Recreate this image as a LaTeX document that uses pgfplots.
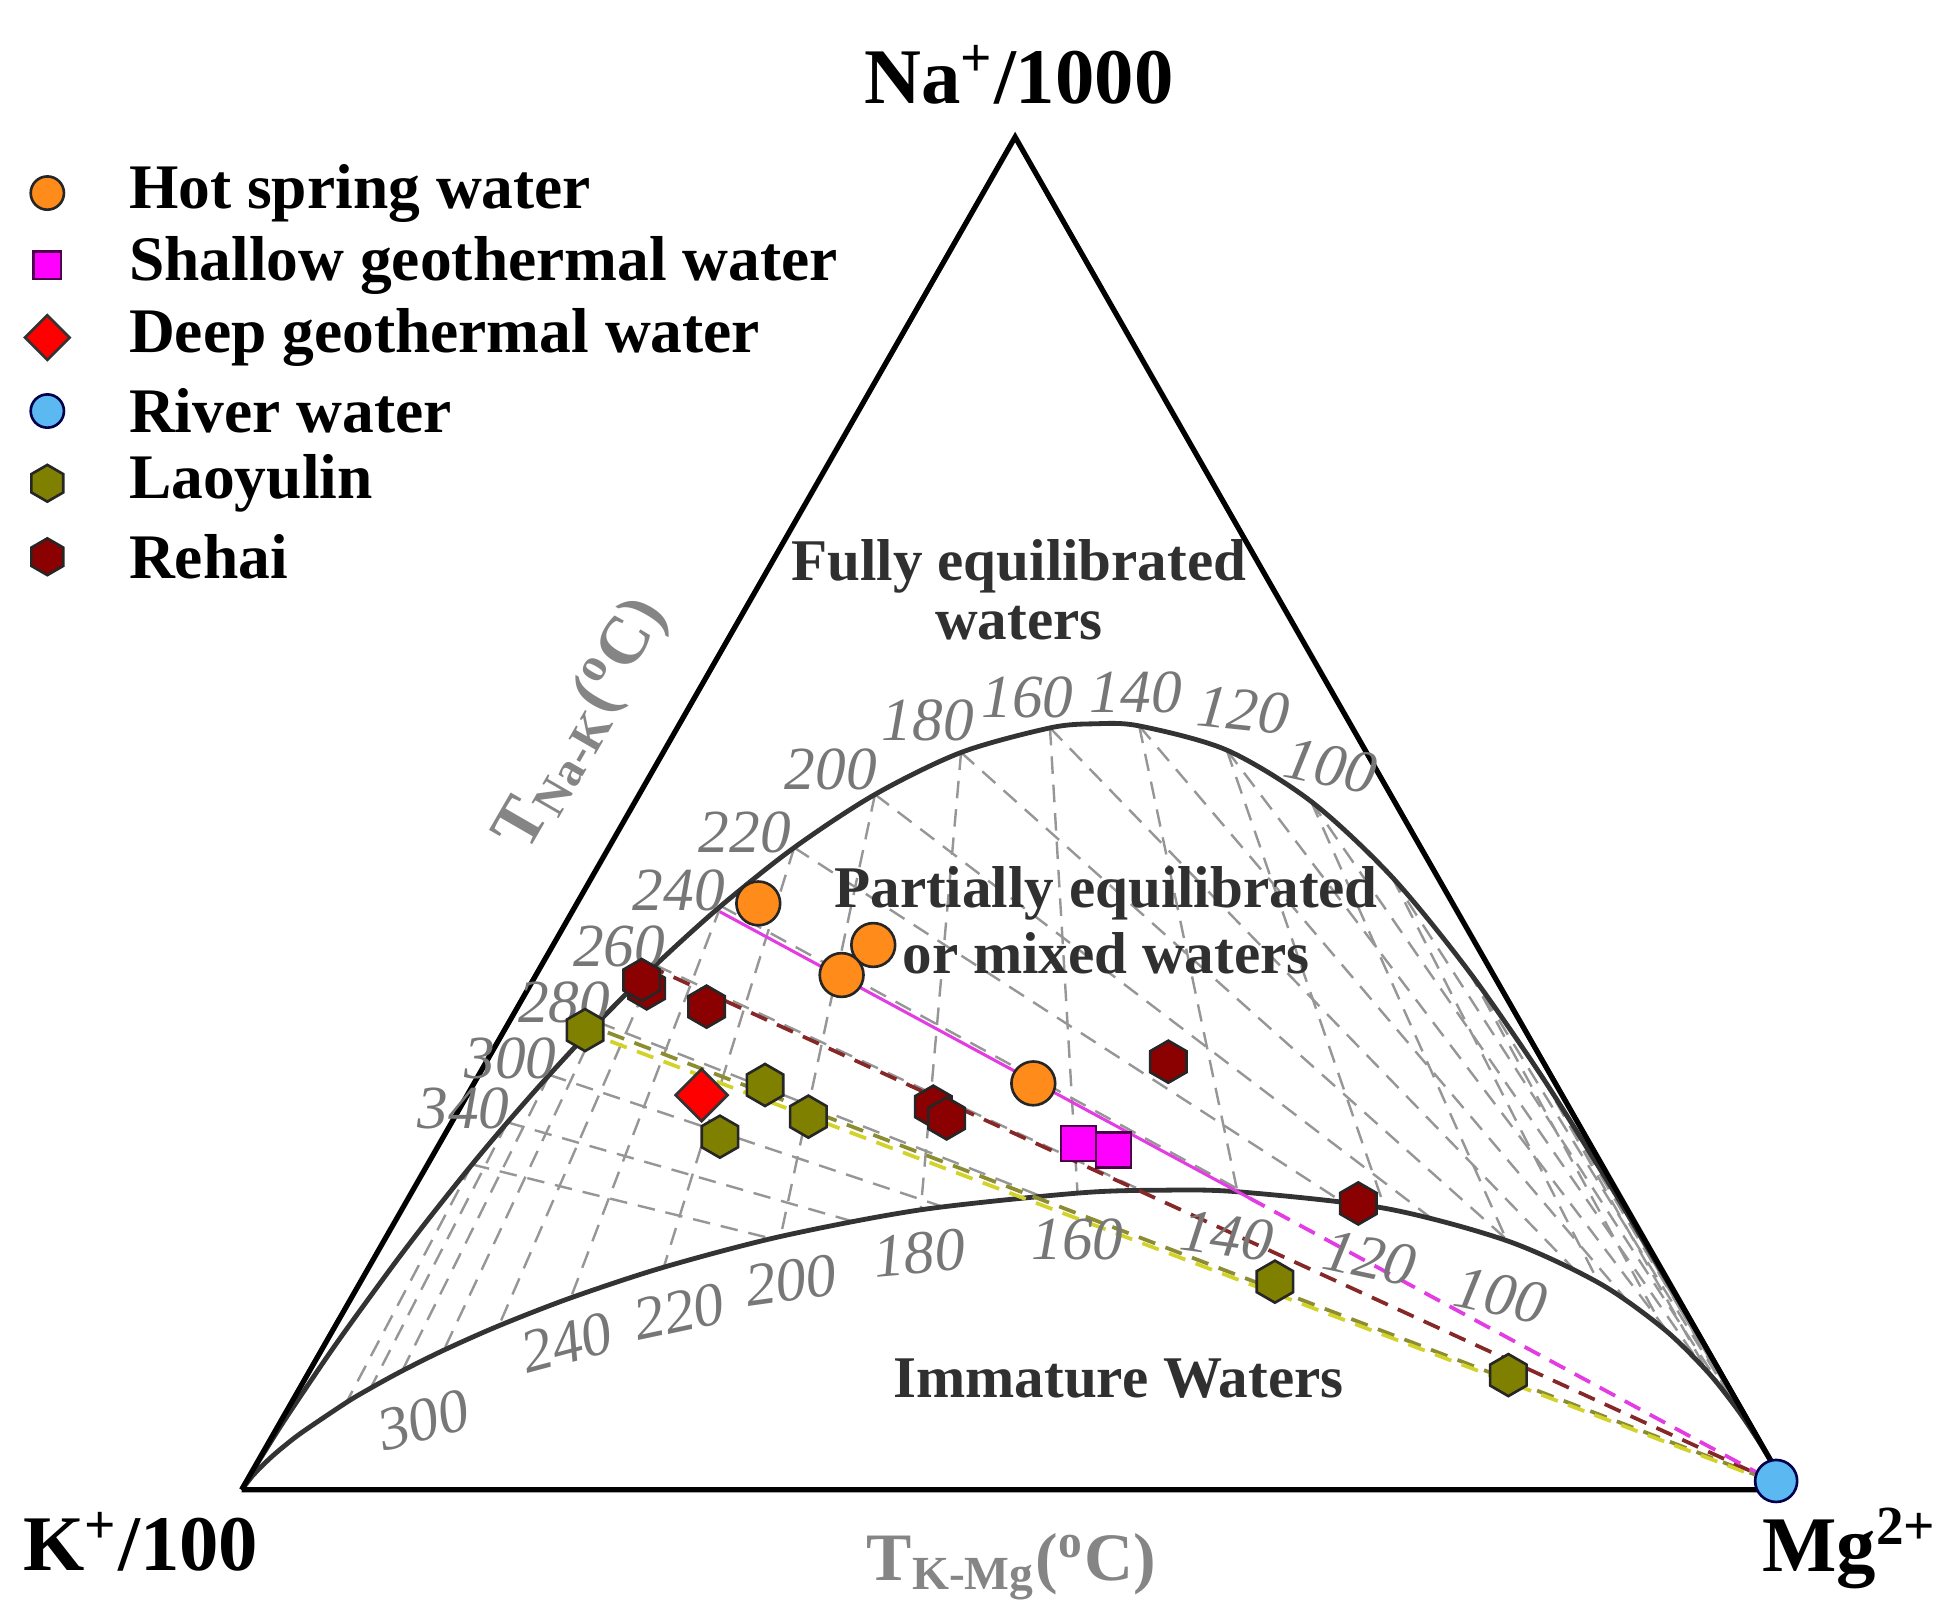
\documentclass[border=0pt]{standalone}
\usepackage{pgfplots}
\pgfplotsset{compat=1.18}
\usepackage{fontspec}
\setmainfont{Liberation Serif}

\definecolor{hotspring}{HTML}{FF8C1A}
\definecolor{shallow}{HTML}{FF00FF}
\definecolor{deep}{HTML}{FF0000}
\definecolor{river}{HTML}{5BB8F0}
\definecolor{laoyulin}{HTML}{7F7F00}
\definecolor{rehai}{HTML}{8B0000}
\definecolor{curvegray}{HTML}{333333}
\definecolor{isogray}{HTML}{969696}
\definecolor{labelgray}{HTML}{777777}
\definecolor{regiongray}{HTML}{303030}
\definecolor{mixmag}{HTML}{E23CE2}
\definecolor{mixred}{HTML}{862828}
\definecolor{mixolive}{HTML}{8C8C30}
\definecolor{mixyellow}{HTML}{D2D22A}

% pointy-top hexagon mark
\pgfdeclareplotmark{hexagon*}{%
  \pgfpathmoveto{\pgfpointpolar{90}{\pgfplotmarksize}}%
  \pgfpathlineto{\pgfpointpolar{150}{\pgfplotmarksize}}%
  \pgfpathlineto{\pgfpointpolar{210}{\pgfplotmarksize}}%
  \pgfpathlineto{\pgfpointpolar{270}{\pgfplotmarksize}}%
  \pgfpathlineto{\pgfpointpolar{330}{\pgfplotmarksize}}%
  \pgfpathlineto{\pgfpointpolar{30}{\pgfplotmarksize}}%
  \pgfpathclose
  \pgfusepathqfillstroke
}

\pgfplotsset{
  iso/.style={isogray, line width=0.55pt, dash pattern=on 4pt off 2.5pt},
  mix/.style={line width=0.85pt, dash pattern=on 4pt off 2.5pt},
  pt/.style={only marks, line width=0.6pt},
}
\tikzset{
  tlab/.style={font=\itshape\fontsize{14}{14}\selectfont, text=labelgray, inner sep=1pt},
  reg/.style={font=\bfseries\fontsize{13.5}{13.5}\selectfont, text=regiongray, inner sep=1pt},
  leg/.style={font=\bfseries\fontsize{14.5}{14.5}\selectfont, anchor=west, inner sep=0pt},
  corner/.style={font=\bfseries\fontsize{18}{18}\selectfont, inner sep=0pt},
  axtitle/.style={font=\bfseries\fontsize{15.5}{15.5}\selectfont, text=labelgray!90, inner sep=0pt},
}

\begin{document}
\begin{tikzpicture}
\begin{axis}[
    width=15.68cm, height=13.02cm, scale only axis,
    xmin=0, xmax=1568, ymin=0, ymax=1302,
    y dir=reverse,
    hide axis,
    clip=false,
]
% keep the whole frame as the page
\path (rel axis cs:0,0) rectangle (rel axis cs:1,1);

% K-Mg isotherms (through the Na corner), 20 ... 340 C
\addplot[iso] coordinates {(1291.2,949.2) (1394.2,1130.6)};
\addplot[iso] coordinates {(1237.8,864.1) (1370.6,1101.0)};
\addplot[iso] coordinates {(1179.3,779.8) (1335.4,1066.6)};
\addplot[iso] coordinates {(1117.5,704.0) (1283.6,1030.0)};
\addplot[iso] coordinates {(1052.6,643.4) (1209.8,996.1)};
\addplot[iso] coordinates {(984.9,602.2) (1111.9,970.1)};
\addplot[iso] coordinates {(914.6,582.8) (993.5,956.8)};
\addplot[iso] coordinates {(843.0,584.4) (865.1,957.9)};
\addplot[iso] coordinates {(771.6,604.1) (739.2,971.3)};
\addplot[iso] coordinates {(702.5,637.8) (626.7,992.7)};
\addplot[iso] coordinates {(637.6,680.5) (532.9,1017.4)};
\addplot[iso] coordinates {(578.7,727.4) (458.2,1042.0)};
\addplot[iso] coordinates {(526.2,774.9) (400.5,1064.4)};
\addplot[iso] coordinates {(480.3,820.7) (356.3,1084.0)};
\addplot[iso] coordinates {(441.0,863.0) (322.9,1100.6)};
\addplot[iso] coordinates {(407.4,901.1) (297.5,1114.5)};
\addplot[iso] coordinates {(379.0,934.9) (278.1,1126.0)};

% Na-K isotherms (through the Mg corner), 20 ... 340 C
\addplot[iso] coordinates {(1291.2,949.2) (1418.8,1168.2)};
\addplot[iso] coordinates {(1237.8,864.1) (1410.5,1154.7)};
\addplot[iso] coordinates {(1179.3,779.8) (1399.3,1137.9)};
\addplot[iso] coordinates {(1117.5,704.0) (1384.5,1117.8)};
\addplot[iso] coordinates {(1052.6,643.4) (1365.1,1095.0)};
\addplot[iso] coordinates {(984.9,602.2) (1339.6,1070.2)};
\addplot[iso] coordinates {(914.6,582.8) (1306.5,1044.5)};
\addplot[iso] coordinates {(843.0,584.4) (1264.2,1019.5)};
\addplot[iso] coordinates {(771.6,604.1) (1211.6,996.8)};
\addplot[iso] coordinates {(702.5,637.8) (1148.9,977.9)};
\addplot[iso] coordinates {(637.6,680.5) (1077.0,964.5)};
\addplot[iso] coordinates {(578.7,727.4) (998.4,957.1)};
\addplot[iso] coordinates {(526.2,774.9) (916.5,955.7)};
\addplot[iso] coordinates {(480.3,820.7) (835.0,960.1)};
\addplot[iso] coordinates {(441.0,863.0) (756.8,968.8)};
\addplot[iso] coordinates {(407.4,901.1) (684.5,980.6)};
\addplot[iso] coordinates {(379.0,934.9) (619.5,994.4)};

% full equilibrium line
\addplot[curvegray, line width=1.1pt, smooth] coordinates {
 (194,1196) (208.0,1172.7) (224.3,1146.6) (238.1,1125.6) (263.8,1087.6)
 (285.7,1056.8) (317.7,1013.1) (344.5,978.1) (379.0,934.9) (407.4,901.1)
 (441.0,863.0) (480.3,820.7) (526.2,774.9) (578.7,727.4) (637.6,680.5)
 (702.5,637.8) (771.6,604.1) (843.0,584.4) (878.9,581.1) (914.6,582.8)
 (984.9,602.2) (1052.6,643.4) (1117.5,704.0) (1179.3,779.8) (1237.8,864.1)
 (1291.2,949.2) (1315.4,989.4) (1337.6,1026.9) (1357.4,1060.8) (1374.7,1090.8)
 (1395.9,1127.5) (1411.3,1154.6) (1424.5,1177.5) (1432.8,1192.2) (1435,1196)
};
% immature water line
\addplot[curvegray, line width=1.1pt, smooth] coordinates {
 (194,1196) (202.7,1184.9) (207.3,1179.9) (217.2,1170.4) (226.6,1162.3)
 (242.3,1150.1) (278.1,1126.0) (297.5,1114.5) (322.9,1100.6) (356.3,1084.0)
 (400.5,1064.4) (458.2,1042.0) (532.9,1017.4) (626.7,992.7) (739.2,971.3)
 (865.1,957.9) (929.6,955.6) (993.5,956.8) (1111.9,970.1) (1209.8,996.1)
 (1283.6,1030.0) (1335.4,1066.6) (1370.6,1101.0) (1394.2,1130.6) (1410.1,1154.1)
 (1420.6,1171.2) (1429.7,1186.7) (1435,1196)
};

% triangle
\addplot[black, line width=1.2pt] coordinates {(194,1196) (815,110) (1435,1196) (194,1196)};

% mixing lines towards river water
\addplot[mixolive, mix] coordinates {(488,829) (1425,1190)};
\addplot[mixyellow, mix] coordinates {(490,836) (1425,1191)};
\addplot[mixred, mix] coordinates {(520,775) (1425,1190)};
\addplot[mixmag, line width=0.7pt] coordinates {(578,732) (1003,961.8)};
\addplot[mixmag, mix] coordinates {(1003,961.8) (1425,1190)};

% samples
\addplot[pt, mark=*, mark size=5pt, draw=black!85, fill=hotspring] coordinates {
 (608.8,725.3) (701.1,758.7) (675.7,782.8) (829.6,869.8)};
\addplot[pt, mark=square*, mark size=4pt, draw=black!70!shallow, fill=shallow] coordinates {
 (865.8,918.0) (893.9,923.3)};
\addplot[pt, mark=square*, mark size=4.2pt, mark options={rotate=45}, draw=black!80, fill=deep] coordinates {
 (563.3,879.2)};
\addplot[pt, mark=hexagon*, mark size=4.8pt, draw=black!85, fill=laoyulin] coordinates {
 (469.7,827.0) (614.2,871.1) (649.0,896.5) (578.0,912.6) (1023.6,1029.0) (1211.0,1104.0)};
\addplot[pt, mark=hexagon*, mark size=4.8pt, draw=black!85, fill=rehai] coordinates {
 (519.2,793.5) (515.2,786.8) (567.3,808.2) (749.3,888.5) (760.0,897.9) (938.0,852.4) (1090.5,966.2)};
\addplot[pt, mark=*, mark size=4.8pt, draw=black!70!blue, fill=river] coordinates {
 (1426,1189)};

% legend
\addplot[pt, mark=*, mark size=3.8pt, draw=black!85, fill=hotspring] coordinates {(38,155)};
\addplot[pt, mark=square*, mark size=3.1pt, draw=black!70!shallow, fill=shallow] coordinates {(38,213)};
\addplot[pt, mark=square*, mark size=3.6pt, mark options={rotate=45}, draw=black!80, fill=deep] coordinates {(38,271)};
\addplot[pt, mark=*, mark size=3.8pt, draw=black!70!blue, fill=river] coordinates {(38,330)};
\addplot[pt, mark=hexagon*, mark size=4.2pt, draw=black!85, fill=laoyulin] coordinates {(38,388)};
\addplot[pt, mark=hexagon*, mark size=4.2pt, draw=black!85, fill=rehai] coordinates {(38,447)};
\node[leg] at (103,155) {Hot spring water};
\node[leg] at (103,213) {Shallow geothermal water};
\node[leg] at (103,271) {Deep geothermal water};
\node[leg] at (103,330) {River water};
\node[leg] at (103,388) {Laoyulin};
\node[leg] at (103,447) {Rehai};

% corner and axis titles
\node[corner] at (818,60) {Na\textsuperscript{+}/1000};
\node[corner, anchor=west] at (18,1238) {K\textsuperscript{+}/100};
\node[corner, anchor=east] at (1556,1243) {Mg\textsuperscript{2+}};
\node[axtitle] at (812,1258) {T\textsubscript{K-Mg}(\textsuperscript{o}C)};
\node[axtitle, rotate=60] at (468,582) {T\textsubscript{Na-K}(\textsuperscript{o}C)};

% field names
\node[reg] at (818,455) {Fully equilibrated};
\node[reg] at (818,500) {waters};
\node[reg] at (888,717) {Partially equilibrated};
\node[reg] at (888,765) {or mixed waters};
\node[reg] at (898,1107) {Immature Waters};

% Na-K temperatures on the full equilibrium line
\node[tlab, rotate=-12] at (1068,615) {100};
\node[tlab, rotate=-6] at (998,570) {120};
\node[tlab] at (912,556) {140};
\node[tlab] at (825,560) {160};
\node[tlab] at (745,578) {180};
\node[tlab] at (667,618) {200};
\node[tlab] at (598,668) {220};
\node[tlab] at (545,715) {240};
\node[tlab] at (497,760) {260};
\node[tlab] at (453,805) {280};
\node[tlab] at (410,850) {300};
\node[tlab] at (372,890) {340};

% K-Mg temperatures on the immature water line
\node[tlab, rotate=-12] at (1205,1040) {100};
\node[tlab, rotate=-12] at (1100,1010) {120};
\node[tlab, rotate=-8] at (985,992) {140};
\node[tlab] at (865,995) {160};
\node[tlab, rotate=5] at (738,1006) {180};
\node[tlab, rotate=8] at (635,1028) {200};
\node[tlab, rotate=12] at (545,1053) {220};
\node[tlab, rotate=15] at (455,1078) {240};
\node[tlab, rotate=15] at (340,1140) {300};

\end{axis}
\end{tikzpicture}
\end{document}
